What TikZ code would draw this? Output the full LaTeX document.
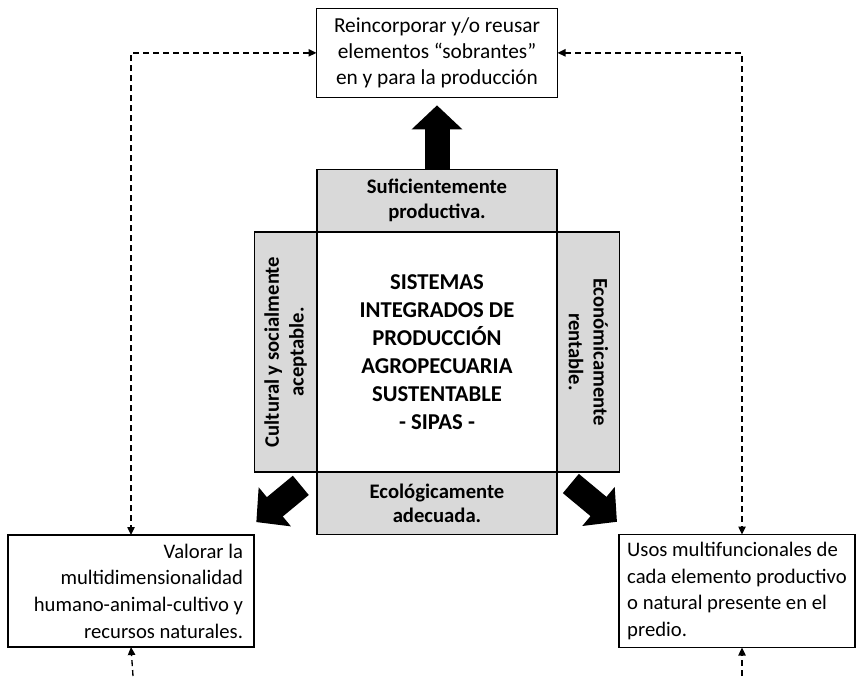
\documentclass[tikz,border=0pt]{standalone}
\usepackage{fontspec}
\setmainfont{Carlito}
\usetikzlibrary{positioning,arrows.meta}
\definecolor{grisclaro}{HTML}{D9D9D9}

\begin{document}
\begin{tikzpicture}[x=0.75pt,y=-0.75pt,node distance=0pt,>={Triangle[width=5.5pt,length=6pt]},
    caja/.style={draw,line width=1.2pt,inner sep=0pt,outer sep=0pt,font=\fontsize{15.5}{20}\selectfont},
    lado/.style={caja,fill=grisclaro,align=center,minimum width=180pt,minimum height=47pt,font=\bfseries\fontsize{15.5}{18.5}\selectfont},
    punteada/.style={dash pattern=on 4.5pt off 3pt,line width=1pt},
    flecha/.style={line width=18.75pt,-{Triangle[length=18pt,width=37pt]}}]

                \useasboundingbox (0,0) rectangle (856,676);

                \node[caja,minimum width=180pt,minimum height=180pt,align=center,font=\bfseries\fontsize{17}{21}\selectfont] (sipas) at (437,352) {SISTEMAS\\INTEGRADOS DE\\PRODUCCIÓN\\AGROPECUARIA\\SUSTENTABLE\\- SIPAS -};
                \node[lado] (prod) [above=of sipas] {Suficientemente\\productiva.};
                \node[lado] (ecol) [below=of sipas] {Ecológicamente\\adecuada.};
                \node[lado,rotate=90,anchor=south] (cult) at (sipas.west) {Cultural y socialmente\\aceptable.};
                \node[lado,rotate=-90,anchor=south] (econ) at (sipas.east) {Económicamente\\rentable.};

                \node[caja,minimum width=180.75pt,minimum height=66.75pt,align=center,font=\fontsize{16}{19.5}\selectfont] (reinc) [above=54pt of prod] {Reincorporar y/o reusar\\elementos “sobrantes”\\en y para la producción};
                \node[caja,minimum width=184.5pt,minimum height=84pt,text width=168pt,align=flush right] (valor) at (131,591) {Valorar la\\multidimensionalidad\\humano-animal-cultivo y\\recursos naturales.};
                \node[caja,minimum width=177pt,minimum height=84.75pt,align=left] (usos) at (737,591) {Usos multifuncionales de\\cada elemento productivo\\o natural presente en el\\predio.};

                \coordinate (vpie) at (133,676);
                \coordinate (upie) at (742,676);

                \draw[flecha,shorten >=6pt] (prod.north) -- (reinc.south);
                \draw[flecha,shorten <=15.75pt,shorten >=2.25pt] (ecol.north west) -- ([yshift=8.25pt]valor.north east);
                \draw[flecha,shorten <=13.5pt,shorten >=2pt] (ecol.north east) -- ([yshift=8.25pt]usos.north west);

                \draw[punteada,<->] (reinc.west) -| (valor.north);
                \draw[punteada,<->] (reinc.east) -| ([xshift=3.75pt]usos.north);
                \draw[punteada,->] (vpie) -- (valor.south);
                \draw[punteada,->] (upie) -- (upie |- usos.south);
\end{tikzpicture}
\end{document}
